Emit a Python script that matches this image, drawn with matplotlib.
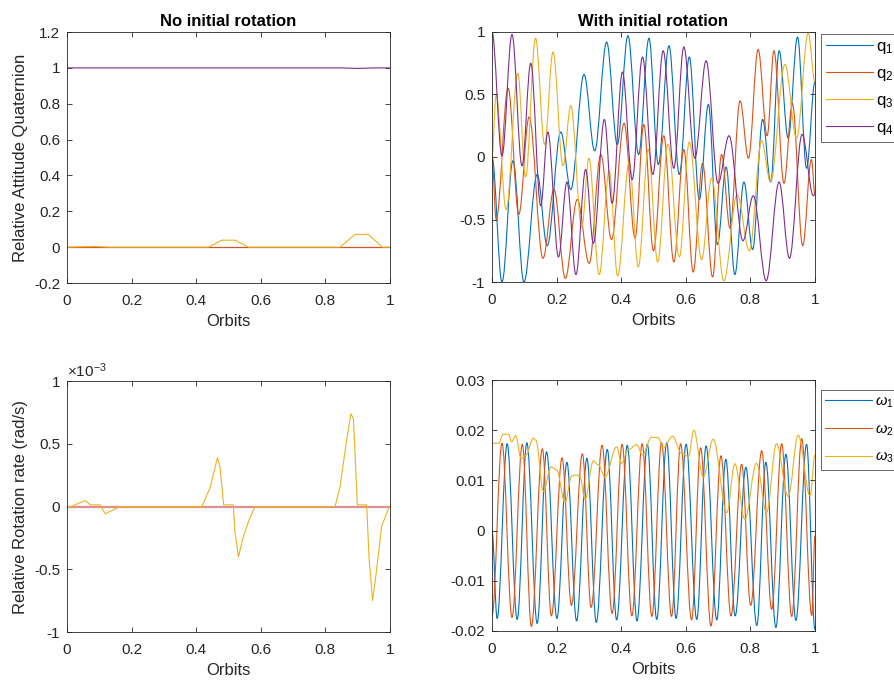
import matplotlib
matplotlib.use("Agg")
import matplotlib.pyplot as plt
from matplotlib.ticker import FuncFormatter
from matplotlib.path import Path
from matplotlib.patches import PathPatch
from matplotlib.lines import Line2D

plt.rcParams['font.family'] = ['Liberation Sans', 'DejaVu Sans']
plt.rcParams['axes.unicode_minus'] = False
plt.rcParams['mathtext.fontset'] = 'custom'
plt.rcParams['mathtext.rm'] = 'Liberation Sans'
plt.rcParams['mathtext.it'] = 'Liberation Sans:italic'

colors = ['#0072BD', '#D95319', '#EDB120', '#7E2F8E']

# --- no initial rotation: quaternion ---
tl_q3_t = [0, 0.05, 0.09, 0.13, 0.438, 0.479, 0.52, 0.562, 0.845, 0.892, 0.933, 0.977, 1.0]
tl_q3 = [0, 0.003, 0.004, 0, 0, 0.039, 0.039, 0, 0, 0.071, 0.071, 0, 0]
tl_q4_t = [0, 0.85, 0.9, 0.95, 1.0]
tl_q4 = [1, 1, 0.997, 1, 1]
tl_zero_t = [0, 1.0]
tl_zero = [0, 0]

# --- with initial rotation: quaternion (extrema) ---
q1_t = [0, 0.031, 0.065, 0.099, 0.14, 0.171, 0.213, 0.244, 0.285, 0.318, 0.355, 0.388,
        0.421, 0.454, 0.486, 0.515, 0.548, 0.58, 0.611, 0.642, 0.67, 0.698, 0.725, 0.752,
        0.78, 0.807, 0.838, 0.863, 0.889, 0.917, 0.946, 0.974, 1.0]
q1 = [0, -1.0, -0.03, -1.0, -0.14, -0.71, 0.2, -0.26, 0.66, 0.05, 0.92, 0.1,
      0.97, 0.02, 0.95, -0.06, 0.89, -0.14, 0.80, -0.34, 0.42, -0.70, -0.08, -0.94,
      -0.2, -0.74, 0.30, -0.2, 0.85, 0.15, 0.96, -0.09, 0.6]

q2_t = [0, 0.013, 0.05, 0.083, 0.115, 0.158, 0.192, 0.227, 0.264, 0.301, 0.337, 0.37,
        0.409, 0.443, 0.47, 0.50, 0.532, 0.563, 0.594, 0.623, 0.652, 0.683, 0.711, 0.737,
        0.768, 0.794, 0.824, 0.852, 0.873, 0.904, 0.93, 0.962, 0.989, 1.0]
q2 = [0, -0.5, 0.55, -0.46, 0.32, -0.81, -0.26, -0.97, -0.34, -0.85, 0.02, -0.66,
      0.27, -0.65, 0.26, -0.75, 0.17, -0.84, 0.06, -0.92, -0.05, -0.96, 0.02, -0.57,
      0.45, -0.01, 0.86, 0.17, 0.85, -0.21, 0.43, -0.71, -0.02, -0.3]

q3_t = [0, 0.013, 0.044, 0.08, 0.104, 0.135, 0.163, 0.189, 0.22, 0.244, 0.278, 0.30,
        0.332, 0.363, 0.389, 0.425, 0.453, 0.484, 0.513, 0.545, 0.58, 0.611, 0.649, 0.68,
        0.718, 0.759, 0.797, 0.835, 0.862, 0.907, 0.943, 0.979, 1.0]
q3 = [0, 0.5, -0.42, 0.67, -0.16, 0.95, 0.1, 0.84, -0.07, 0.41, -0.56, -0.01,
      -0.94, -0.11, -0.95, -0.04, -0.88, 0.06, -0.84, 0.1, -0.8, 0.12, -0.82, -0.17,
      -0.99, -0.3, -0.75, 0.13, -0.2, 0.74, 0.15, 0.99, 0.6]

q4_t = [0, 0.031, 0.062, 0.093, 0.12, 0.151, 0.173, 0.206, 0.232, 0.26, 0.29, 0.314,
        0.348, 0.372, 0.404, 0.434, 0.466, 0.498, 0.53, 0.563, 0.594, 0.628, 0.663, 0.70,
        0.734, 0.777, 0.809, 0.849, 0.889, 0.921, 0.96, 0.995, 1.0]
q4 = [1.0, 0.01, 0.98, -0.07, 0.75, -0.39, 0.2, -0.8, -0.2, -0.94, -0.1, -0.69,
      0.3, -0.37, 0.68, -0.18, 0.8, -0.14, 0.85, -0.09, 0.88, -0.01, 0.77, -0.21,
      0.17, -0.67, -0.31, -0.99, -0.2, -0.81, 0.18, -0.31, -0.3]

# --- no initial rotation: rotation rate (x 1e-3 rad/s) ---
bl_w3_t = [0, 0.015, 0.035, 0.057, 0.072, 0.103, 0.112, 0.119, 0.14, 0.165, 0.418, 0.443,
           0.466, 0.474, 0.485, 0.515, 0.52, 0.531, 0.546, 0.565, 0.582, 0.83, 0.845, 0.866,
           0.879, 0.887, 0.899, 0.928, 0.935, 0.946, 0.957, 0.974, 0.998, 1.0]
bl_w3 = [0, 0, 0.025, 0.048, 0.013, 0.013, -0.03, -0.058, -0.03, 0, 0, 0.15,
         0.39, 0.31, 0.013, 0.013, -0.2, -0.40, -0.24, -0.1, 0, 0, 0.15, 0.53,
         0.74, 0.70, 0.013, 0.013, -0.4, -0.75, -0.54, -0.16, 0, 0]
bl_zero_t = [0, 1.0]
bl_zero = [0, 0]

# --- with initial rotation: rotation rate (rad/s) ---
w1_t = [0, 0.016, 0.047, 0.078, 0.108, 0.14, 0.169, 0.201, 0.232, 0.262, 0.294, 0.323,
        0.357, 0.386, 0.419, 0.449, 0.481, 0.51, 0.541, 0.57, 0.601, 0.634, 0.663, 0.696,
        0.724, 0.753, 0.786, 0.82, 0.848, 0.879, 0.91, 0.941, 0.974, 1.0]
w1 = [0.0, -0.0175, 0.0173, -0.0177, 0.0175, -0.0185, 0.0157, -0.0175, 0.0136, -0.018,
      0.0144, -0.0183, 0.0162, -0.0178, 0.017, -0.018, 0.0172, -0.0177, 0.0175, -0.0175,
      0.0172, -0.0177, 0.0169, -0.0178, 0.0142, -0.017, 0.0126, -0.0189, 0.0136, -0.0193,
      0.0152, -0.0179, 0.0172, -0.0197]

w2_t = [0, 0.031, 0.062, 0.094, 0.122, 0.156, 0.184, 0.217, 0.246, 0.28, 0.307, 0.341,
        0.372, 0.403, 0.433, 0.465, 0.495, 0.525, 0.556, 0.584, 0.618, 0.646, 0.678, 0.709,
        0.74, 0.773, 0.801, 0.835, 0.866, 0.897, 0.928, 0.959, 0.99, 1.0]
w2 = [-0.017, 0.0174, -0.0173, 0.0172, -0.0191, 0.0163, -0.017, 0.0145, -0.0149, 0.0153,
      -0.0153, 0.017, -0.0165, 0.0172, -0.017, 0.0173, -0.0171, 0.0175, -0.0171, 0.0173,
      -0.0178, 0.0165, -0.019, 0.0149, -0.017, 0.0132, -0.0149, 0.0159, -0.0157, 0.0173,
      -0.0171, 0.0183, -0.0169, -0.001]

w3_t = [0, 0.02, 0.035, 0.051, 0.061, 0.073, 0.09, 0.105, 0.128, 0.136, 0.159, 0.183,
        0.2, 0.226, 0.247, 0.262, 0.272, 0.288, 0.314, 0.329, 0.35, 0.386, 0.401, 0.422,
        0.448, 0.466, 0.494, 0.515, 0.53, 0.559, 0.587, 0.608, 0.625, 0.654, 0.685, 0.727,
        0.752, 0.783, 0.819, 0.85, 0.881, 0.917, 0.948, 0.985, 1.0]
w3 = [0.0174, 0.0174, 0.0192, 0.0192, 0.0177, 0.0189, 0.0144, 0.0150, 0.0184, 0.0180,
      0.0078, 0.0127, 0.0121, 0.0056, 0.0109, 0.0111, 0.0108, 0.0062, 0.0139, 0.0131,
      0.0107, 0.0167, 0.0134, 0.0161, 0.0171, 0.0151, 0.0186, 0.0185, 0.0164, 0.0188,
      0.0154, 0.0147, 0.0200, 0.0107, 0.0182, 0.0036, 0.0133, 0.0022, 0.0134, 0.0036,
      0.0173, 0.0068, 0.0190, 0.0069, 0.0151]

fmt = FuncFormatter(lambda v, p: '%g' % round(v, 6))
lw = 0.8
tc = '#262626'


def curve(ax, t, y, color):
    # smooth curve through the read extrema (flat tangent at each point)
    verts = [(t[0], y[0])]
    codes = [Path.MOVETO]
    for i in range(len(t) - 1):
        d = t[i + 1] - t[i]
        verts += [(t[i] + 0.364 * d, y[i]), (t[i + 1] - 0.364 * d, y[i + 1]), (t[i + 1], y[i + 1])]
        codes += [Path.CURVE4] * 3
    ax.add_patch(PathPatch(Path(verts, codes), fill=False, edgecolor=color, lw=lw))


def style(ax):
    ax.tick_params(direction='in', top=True, right=True, labelsize=11,
                   colors=tc, length=3.5, width=0.6)
    ax.tick_params(axis='x', pad=8)
    ax.tick_params(axis='y', pad=5)
    for s in ax.spines.values():
        s.set_color(tc)
        s.set_linewidth(0.6)
    ax.xaxis.set_major_formatter(fmt)
    ax.yaxis.set_major_formatter(fmt)
    ax.set_xlim(0, 1)
    ax.set_xticks([0, 0.2, 0.4, 0.6, 0.8, 1.0])
    ax.set_xlabel('Orbits', fontsize=12, color=tc, labelpad=4)


def add_legend(ax, labels, top_px, size, spacing):
    handles = [Line2D([], [], color=c, lw=lw) for c in colors[:len(labels)]]
    leg = ax.legend(handles, labels, loc='upper left',
                    bbox_to_anchor=(821 / 894, 1 - top_px / 682),
                    bbox_transform=fig.transFigure, fontsize=size, frameon=True,
                    fancybox=False, edgecolor=tc, handlelength=47 / (size * 1.389),
                    handletextpad=0.2, labelspacing=spacing, borderaxespad=0,
                    borderpad=0.3)
    leg.get_frame().set_linewidth(0.6)


fig = plt.figure(figsize=(8.94, 6.82), dpi=100)
ax1 = fig.add_axes([0.0749, 0.585, 0.3613, 0.368])
ax2 = fig.add_axes([0.5503, 0.5865, 0.3613, 0.3666])
ax3 = fig.add_axes([0.0749, 0.0733, 0.3613, 0.368])
ax4 = fig.add_axes([0.5503, 0.0748, 0.3613, 0.368])

# top left
ax1.plot(tl_zero_t, tl_zero, color=colors[0], lw=lw)
ax1.plot(tl_zero_t, tl_zero, color=colors[1], lw=lw)
ax1.plot(tl_q3_t, tl_q3, color=colors[2], lw=lw)
ax1.plot(tl_q4_t, tl_q4, color=colors[3], lw=lw)
style(ax1)
ax1.set_ylim(-0.2, 1.2)
ax1.set_yticks([-0.2, 0, 0.2, 0.4, 0.6, 0.8, 1.0, 1.2])
ax1.set_ylabel('Relative Attitude Quaternion', fontsize=12, color=tc, labelpad=4)
ax1.set_title('No initial rotation', fontsize=12, fontweight='bold', pad=4)

# top right
for tt, yy, c in zip([q1_t, q2_t, q3_t, q4_t], [q1, q2, q3, q4], colors):
    curve(ax2, tt, yy, c)
style(ax2)
ax2.set_ylim(-1, 1)
ax2.set_yticks([-1, -0.5, 0, 0.5, 1])
ax2.set_title('With initial rotation', fontsize=12, fontweight='bold', pad=4)
add_legend(ax2, ['q$_1$', 'q$_2$', 'q$_3$', 'q$_4$'], 34, 12, 0.6)

# bottom left
ax3.plot(bl_zero_t, bl_zero, color=colors[0], lw=1.5)
ax3.plot(bl_zero_t, bl_zero, color='#E0908A', lw=1.5)
ax3.plot(bl_w3_t, bl_w3, color=colors[2], lw=lw)
style(ax3)
ax3.set_ylim(-1, 1)
ax3.set_yticks([-1, -0.5, 0, 0.5, 1])
ax3.set_ylabel('Relative Rotation rate (rad/s)', fontsize=12, color=tc, labelpad=4)
ax3.text(0.0, 1.005, r'$\times$10$^{-3}$', transform=ax3.transAxes, fontsize=11,
         color=tc, va='bottom', ha='left')

# bottom right
for tt, yy, c in zip([w1_t, w2_t, w3_t], [w1, w2, w3], colors):
    curve(ax4, tt, yy, c)
style(ax4)
ax4.set_ylim(-0.02, 0.03)
ax4.set_yticks([-0.02, -0.01, 0, 0.01, 0.02, 0.03])
add_legend(ax4, [r'$\omega_1$', r'$\omega_2$', r'$\omega_3$'], 390, 10.5, 0.85)

fig.savefig('out.png', dpi=100)
